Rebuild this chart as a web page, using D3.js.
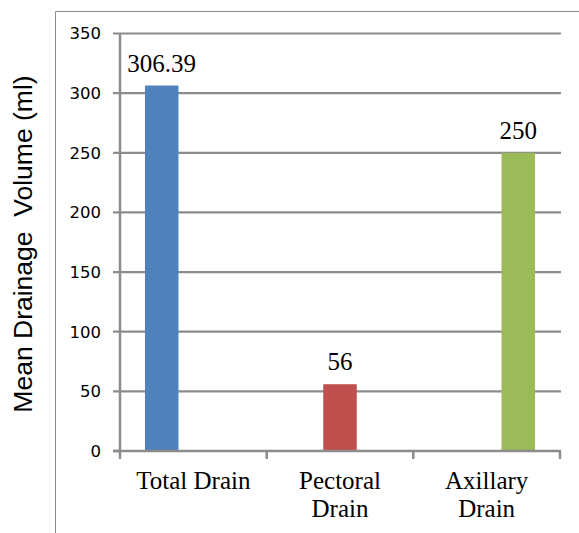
<!DOCTYPE html>
<html>
<head>
<meta charset="utf-8">
<script src="https://cdn.jsdelivr.net/npm/d3@7"></script>
<style>
  html, body { margin: 0; padding: 0; background: #fff; }
  svg { display: block; }
</style>
</head>
<body>
<script>
// Mean drainage volume by drain type
const categories = ["Total Drain", "Pectoral Drain", "Axillary Drain"];
const seriesNames = ["Total Drain", "Pectoral Drain", "Axillary Drain"];
const values = [306.39, 56, 250];
const valueLabels = ["306.39", "56", "250"];
const seriesColors = ["#4f81bd", "#c0504d", "#9bbb59"];
const yTicks = [0, 50, 100, 150, 200, 250, 300, 350];
const yTitle = "Mean Drainage\u00a0 Volume (ml)";

const W = 579, H = 533;
const plot = { left: 120, right: 560, top: 33.5, bottom: 451 };
const serif = "'Liberation Serif', 'Times New Roman', serif";

const svg = d3.select("body").append("svg").attr("width", W).attr("height", H);

// chart frame
svg.append("path")
  .attr("d", `M55.5,${H} L55.5,11.5 L${W},11.5`)
  .attr("fill", "none").attr("stroke", "#8c8c8c").attr("stroke-width", 1);

const x = d3.scaleBand().domain(categories).range([plot.left, plot.right]).padding(0);
const inner = d3.scaleBand().domain(seriesNames).range([0, x.bandwidth()]).paddingOuter(0.82).paddingInner(0);
const y = d3.scaleLinear().domain([0, 350]).range([plot.bottom, plot.top]);

// gridlines
svg.append("g").selectAll("line").data(yTicks.filter(d => d > 0)).join("line")
  .attr("x1", plot.left - 7).attr("x2", plot.right + 1)
  .attr("y1", d => y(d)).attr("y2", d => y(d))
  .attr("stroke", "#8c8c8c").attr("stroke-width", 2.2);

// y axis ticks and labels
const yAxis = svg.append("g");
yAxis.selectAll("line").data([0]).join("line")
  .attr("x1", plot.left - 7).attr("x2", plot.left).attr("y1", y(0)).attr("y2", y(0))
  .attr("stroke", "#8c8c8c").attr("stroke-width", 2.5);
yAxis.selectAll("text").data(yTicks).join("text")
  .attr("x", 101).attr("y", d => y(d)).attr("dy", "0.36em")
  .attr("text-anchor", "end")
  .attr("font-family", "'DejaVu Sans', Verdana, sans-serif").attr("font-size", 16.5)
  .attr("fill", "#000")
  .text(d => d);

// bars
const barW = inner.step() * 1.06;
svg.append("g").selectAll("rect").data(values).join("rect")
  .attr("x", (d, i) => x(categories[i]) + inner(seriesNames[i]) + inner.step() / 2 - barW / 2)
  .attr("y", d => y(d))
  .attr("width", barW)
  .attr("height", d => y(0) - y(d))
  .attr("fill", (d, i) => seriesColors[i]);

// axes lines
svg.append("line")
  .attr("x1", plot.left).attr("x2", plot.left).attr("y1", plot.top).attr("y2", plot.bottom + 1)
  .attr("stroke", "#8c8c8c").attr("stroke-width", 2.5);
svg.append("line")
  .attr("x1", plot.left - 7).attr("x2", plot.right + 1).attr("y1", y(0)).attr("y2", y(0))
  .attr("stroke", "#8c8c8c").attr("stroke-width", 2.5);

// category tick marks
const xTicks = categories.map(c => x(c)).concat([plot.right]);
svg.append("g").selectAll("line").data(xTicks).join("line")
  .attr("x1", d => d).attr("x2", d => d)
  .attr("y1", y(0)).attr("y2", y(0) + 8)
  .attr("stroke", "#8c8c8c").attr("stroke-width", 2.5);

// value labels
svg.append("g").selectAll("text").data(values).join("text")
  .attr("x", (d, i) => x(categories[i]) + inner(seriesNames[i]) + inner.step() / 2)
  .attr("y", d => y(d) - 14)
  .attr("text-anchor", "middle")
  .attr("font-family", serif).attr("font-size", 25)
  .attr("fill", "#000")
  .text((d, i) => valueLabels[i]);

// category labels (wrapped)
const catWrap = { "Total Drain": ["Total Drain"], "Pectoral Drain": ["Pectoral", "Drain"], "Axillary Drain": ["Axillary", "Drain"] };
const catG = svg.append("g");
categories.forEach(c => {
  const cx = x(c) + x.bandwidth() / 2;
  const t = catG.append("text")
    .attr("text-anchor", "middle")
    .attr("font-family", serif).attr("font-size", 25)
    .attr("fill", "#000");
  catWrap[c].forEach((line, j) => {
    t.append("tspan").attr("x", cx).attr("y", 489 + j * 28).text(line);
  });
});

// y axis title
svg.append("text")
  .attr("transform", `translate(32,244) rotate(-90)`)
  .attr("text-anchor", "middle")
  .attr("font-family", "'Liberation Sans', Arial, sans-serif").attr("font-size", 26.5)
  .attr("fill", "#000")
  .text(yTitle);
</script>
</body>
</html>
